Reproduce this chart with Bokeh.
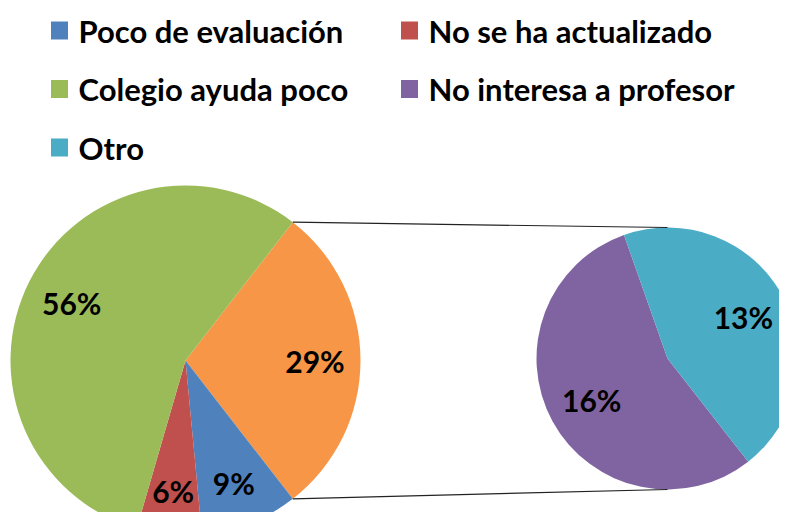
import math
from bokeh.plotting import figure
from bokeh.models import Range1d, ColumnDataSource
from bokeh.embed import file_html
from bokeh.resources import INLINE
from bokeh.core.properties import value

# ---- data ----
main_labels = ["Poco de evaluación", "No se ha actualizado", "Colegio ayuda poco"]
main_values = [9, 6, 56]
main_colors = ["#4F81BD", "#C0504D", "#9BBB59"]
other_color = "#F79646"
sec_labels = ["No interesa a profesor", "Otro"]
sec_values = [16, 13]
sec_colors = ["#8064A2", "#4BACC6"]
legend_labels = ["Poco de evaluación", "No se ha actualizado", "Colegio ayuda poco",
                 "No interesa a profesor", "Otro"]
legend_colors = ["#4F81BD", "#C0504D", "#9BBB59", "#8064A2", "#4BACC6"]

FONT = value("Lato")

W, H = 779, 512


def Y(img_y):
    return H - img_y


p = figure(width=W, height=H, x_range=Range1d(0, W), y_range=Range1d(0, H),
           output_backend="svg", toolbar_location=None, x_axis_type=None, y_axis_type=None,
           min_border=0, min_border_left=0, min_border_right=0, min_border_top=0, min_border_bottom=0)
p.outline_line_color = None
p.grid.visible = False
p.background_fill_color = "white"

total = sum(main_values) + sum(sec_values)
other = sum(sec_values)
k = 2 * math.pi / total

# pie geometry
cx1, cy1, R1 = 185, Y(360), 175
cx2, cy2, R2 = 667, Y(358), 131

starts, ends, cols, lab_x, lab_y, lab_t = [], [], [], [], [], []
# aggregated "other" slice, centered on the right
o_start, o_end = -other * k / 2, other * k / 2
starts.append(o_start); ends.append(o_end); cols.append(other_color)
lab_x.append(cx1 + 0.74 * R1); lab_y.append(cy1)
lab_t.append(f"{round(other / total * 100)}%")
cur = o_start
for v, c in zip(main_values, main_colors):
    e = cur
    s = cur - v * k
    starts.append(s); ends.append(e); cols.append(c)
    m = (s + e) / 2
    f = 0.75 if v < 20 else 0.73
    lab_x.append(cx1 + f * R1 * math.cos(m)); lab_y.append(cy1 + f * R1 * math.sin(m))
    lab_t.append(f"{round(v / total * 100)}%")
    cur = s

src1 = ColumnDataSource(dict(start=starts, end=ends, color=cols))
p.wedge(x=cx1, y=cy1, radius=R1, start_angle="start", end_angle="end", color="color",
        line_color=None, source=src1)

# secondary pie
k2 = 2 * math.pi / other
s2, e2, c2, lx2, ly2, lt2 = [], [], [], [], [], []
cur = math.radians(109.4)
for v, c in zip(sec_values, sec_colors):
    s = cur
    e = cur + v * k2
    s2.append(s); e2.append(e); c2.append(c)
    m = (s + e) / 2
    lx2.append(cx2 + 0.66 * R2 * math.cos(m)); ly2.append(cy2 + 0.66 * R2 * math.sin(m))
    lt2.append(f"{round(v / total * 100)}%")
    cur = e

src2 = ColumnDataSource(dict(start=s2, end=e2, color=c2))
p.wedge(x=cx2, y=cy2, radius=R2, start_angle="start", end_angle="end", color="color",
        line_color=None, source=src2)

# connector lines
p.line([cx1 + R1 * math.cos(o_end), cx2], [cy1 + R1 * math.sin(o_end), cy2 + R2],
       line_color="#222222", line_width=1.2)
p.line([cx1 + R1 * math.cos(o_start), cx2], [cy1 + R1 * math.sin(o_start), cy2 - R2],
       line_color="#222222", line_width=1.2)

# data labels
p.text(x=lab_x + lx2, y=lab_y + ly2, text=lab_t + lt2, text_align="center", text_baseline="middle",
       text_font=FONT, text_font_style="bold", text_font_size="30px", text_color="black")

# legend
leg_x = [59, 409, 59, 409, 59]
leg_y = [Y(30), Y(30), Y(88.5), Y(88.5), Y(147)]
p.rect(x=leg_x, y=leg_y, width=17, height=18, fill_color=legend_colors, line_color=None)
p.text(x=[x + 19 for x in leg_x], y=leg_y, text=legend_labels, text_align="left",
       text_baseline="middle", text_font=FONT, text_font_style="bold",
       text_font_size="31px", text_color="black")

open("out.html", "w").write(file_html(p, INLINE))
